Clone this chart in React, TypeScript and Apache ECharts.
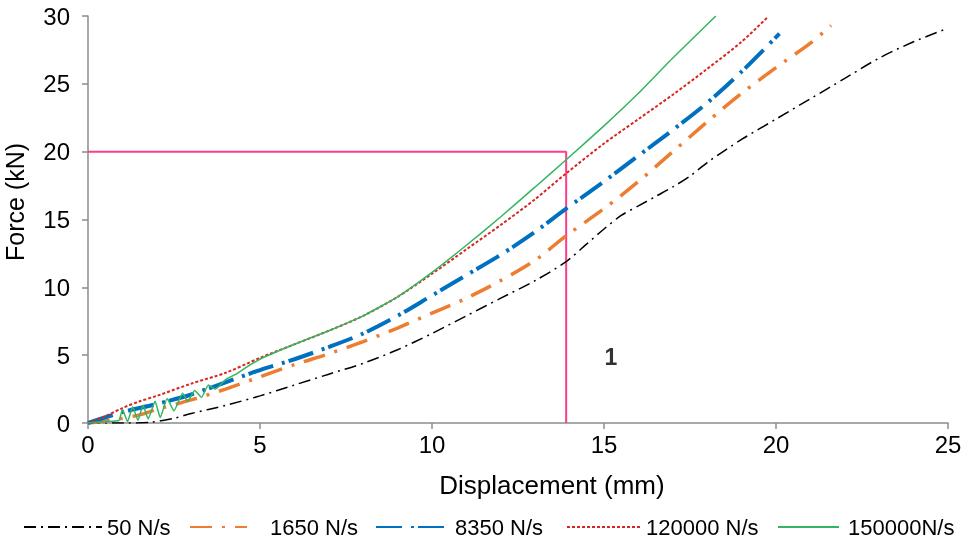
import React, { useEffect, useRef } from "react";
import * as echarts from "echarts";

const seriesNames = ["50 N/s", "1650 N/s", "8350 N/s", "120000 N/s", "150000N/s"];

const x50 = [0, 1, 1.8, 2.5, 3, 4, 5, 6, 7, 8, 9, 10, 11, 12, 13, 13.9, 14.5, 15, 15.5, 16, 16.5, 17, 17.5, 18, 19, 20, 21, 22, 23, 24, 25];
const y50 = [0, 0, 0.05, 0.35, 0.7, 1.3, 2.0, 2.8, 3.6, 4.4, 5.4, 6.6, 7.9, 9.2, 10.5, 11.9, 13.2, 14.3, 15.3, 16.0, 16.7, 17.4, 18.2, 19.2, 20.9, 22.4, 23.9, 25.4, 26.9, 28.1, 29.1];

const x1650 = [0, 0.5, 1, 1.5, 2, 3, 4, 5, 6, 7, 8, 9, 10, 11, 12, 13, 13.9, 15, 16, 17, 18, 19, 20, 21, 21.6];
const y1650 = [0, 0.15, 0.35, 0.6, 1.0, 1.7, 2.5, 3.4, 4.3, 5.1, 6.0, 7.0, 8.1, 9.2, 10.5, 12.0, 13.8, 15.8, 17.8, 20.0, 22.2, 24.3, 26.2, 28.0, 29.3];

const x8350 = [0, 1, 2, 3, 4, 5, 6, 7, 8, 9, 10, 11, 12, 13, 13.9, 15, 16, 17, 18, 19, 20.1];
const y8350 = [0, 0.8, 1.4, 2.1, 3.0, 3.9, 4.7, 5.6, 6.6, 7.9, 9.4, 10.9, 12.4, 14.1, 15.8, 17.8, 19.7, 21.6, 23.6, 25.9, 28.7];

const x120000 = [0, 0.5, 1, 1.5, 2, 3, 4, 5, 6, 7, 8, 9, 10, 11, 12, 13, 13.9, 15, 16, 17, 18, 19, 19.75];
const y120000 = [0, 0.5, 1.1, 1.6, 2.0, 2.9, 3.7, 4.8, 5.8, 6.8, 7.9, 9.3, 11.0, 12.8, 14.6, 16.5, 18.4, 20.6, 22.4, 24.2, 26.1, 28.1, 29.9];

const x150000 = [0, 0.5, 0.9, 1.0, 1.15, 1.3, 1.45, 1.6, 1.75, 1.95, 2.1, 2.3, 2.5, 2.75, 2.9, 3.1, 3.3, 3.5, 3.7, 4.0, 4.3, 4.6, 5, 6, 7, 8, 9, 10, 11, 12, 13, 13.9, 15, 16, 17, 18.25];
const y150000 = [0, 0.1, 0.2, 1.0, 0.1, 1.2, 0.2, 1.3, 0.3, 1.6, 0.4, 1.8, 0.9, 2.2, 1.6, 2.4, 1.9, 2.8, 2.5, 3.2, 3.6, 4.1, 4.7, 5.8, 6.8, 7.9, 9.3, 11.1, 13.1, 15.2, 17.4, 19.4, 21.9, 24.3, 26.9, 30];

const guideX = [0, 13.9, 13.9];
const guideY = [20, 20, 0];
const markerLabel = "1";
const markerPos = [15.2, 4.9];

const xTitle = "Displacement (mm)";
const yTitle = "Force (kN)";

const FONT = "'Liberation Sans', Arial, sans-serif";

const zip = (xs: number[], ys: number[]) => xs.map((x, i) => [x, ys[i]]);

export default function App() {
  const ref = useRef<HTMLDivElement>(null);
  useEffect(() => {
    if (!ref.current) return;
    const chart = echarts.init(ref.current, undefined, { renderer: "svg" });
    const styles = [
      { color: "#000000", width: 1.5, type: [12, 5, 2, 5], smooth: 0.3 },
      { color: "#ED7D31", width: 3.5, type: [22, 10, 3, 10], smooth: 0.3 },
      { color: "#0070C0", width: 4, type: [26, 9, 3, 4], smooth: 0.3 },
      { color: "#D7261E", width: 2, type: [3, 2], smooth: 0.3 },
      { color: "#33B561", width: 1.5, type: "solid", smooth: 0.15 },
    ];
    const datas = [
      zip(x50, y50),
      zip(x1650, y1650),
      zip(x8350, y8350),
      zip(x120000, y120000),
      zip(x150000, y150000),
    ];
    const legendLeft = [18, 184, 370, 561, 772];
    const legendW = [78, 57, 74, 74, 61];
    const legendPad = [0, 18, 0, 0, 4];
    const axisColor = "#8c8c8c";
    chart.setOption({
      animation: false,
      grid: { left: 88, right: 19, top: 16, bottom: 116, containLabel: false },
      xAxis: {
        type: "value",
        min: 0,
        max: 25,
        interval: 5,
        axisLine: { show: true, lineStyle: { color: axisColor, width: 1.5 } },
        axisTick: { show: true, length: 6, lineStyle: { color: axisColor, width: 1.5 } },
        splitLine: { show: false },
        axisLabel: { fontSize: 24, color: "#000", fontFamily: FONT, margin: 9 },
      },
      yAxis: {
        type: "value",
        min: 0,
        max: 30,
        interval: 5,
        axisLine: { show: true, lineStyle: { color: axisColor, width: 1.5 } },
        axisTick: { show: true, length: 6, lineStyle: { color: axisColor, width: 1.5 } },
        splitLine: { show: false },
        axisLabel: { fontSize: 24, color: "#000", fontFamily: FONT, margin: 18 },
      },
      legend: seriesNames.map((n, i) => ({
        data: [n],
        left: legendLeft[i],
        top: 511,
        itemWidth: legendW[i],
        itemHeight: 12,
        selectedMode: false,
        itemStyle: { opacity: 0 },
        textStyle: { fontSize: 22, color: "#000", fontFamily: FONT, padding: [0, 0, 0, legendPad[i]] },
      })),
      graphic: [
        {
          type: "text",
          x: 552,
          y: 485,
          style: { text: xTitle, fontSize: 26, fill: "#000", align: "center", verticalAlign: "middle", fontFamily: FONT },
        },
        {
          type: "text",
          x: 15,
          y: 202,
          rotation: Math.PI / 2,
          style: { text: yTitle, fontSize: 25, fill: "#000", align: "center", verticalAlign: "middle", fontFamily: FONT },
        },
      ],
      series: [
        {
          name: "guide",
          type: "line",
          data: zip(guideX, guideY),
          symbol: "none",
          z: 1,
          lineStyle: { color: "#FF3D8B", width: 2 },
          silent: true,
        },
        {
          name: "marker",
          type: "scatter",
          data: [markerPos],
          symbolSize: 1,
          itemStyle: { color: "rgba(0,0,0,0)" },
          label: { show: true, formatter: markerLabel, position: "inside", fontSize: 23, fontWeight: "bold", color: "#000", fontFamily: FONT },
          silent: true,
        },
        ...seriesNames.map((n, i) => ({
          name: n,
          type: "line",
          data: datas[i],
          symbol: "none",
          smooth: styles[i].smooth,
          z: 3 + i,
          itemStyle: { color: styles[i].color },
          lineStyle: { color: styles[i].color, width: styles[i].width, type: styles[i].type, cap: "butt" },
        })),
      ],
    });
    return () => chart.dispose();
  }, []);
  return <div ref={ref} style={{ position: "fixed", left: 0, top: 0, width: 967, height: 539 }} />;
}
